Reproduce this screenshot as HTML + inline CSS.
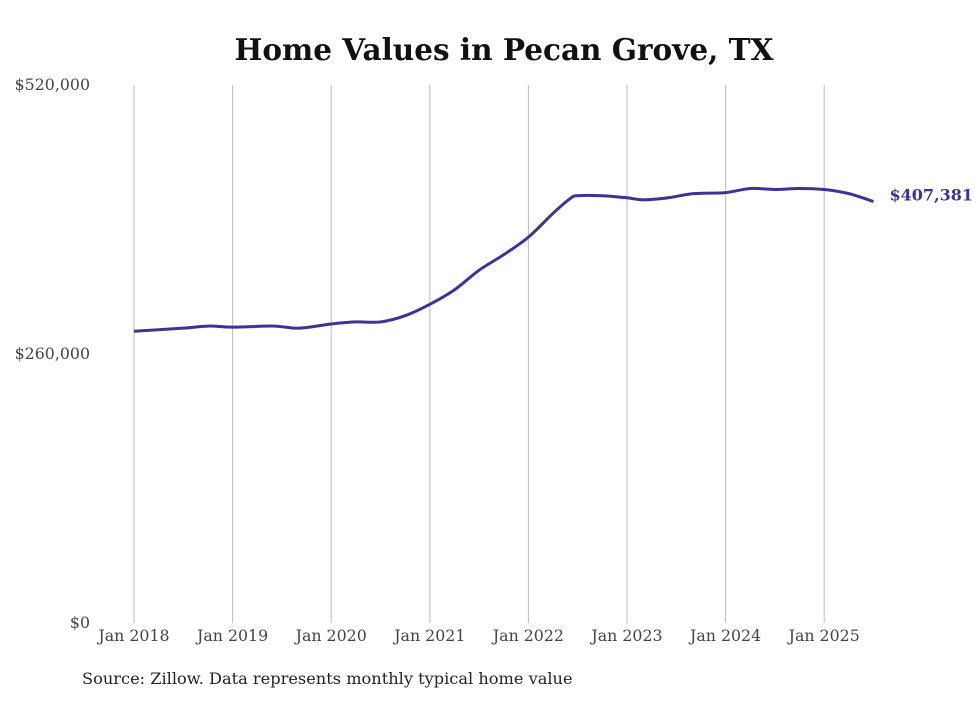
<!DOCTYPE html>
<html><head><meta charset="utf-8"><style>
html,body{margin:0;padding:0;background:#fff;}
body{width:980px;height:699px;overflow:hidden;font-family:"DejaVu Serif","Liberation Serif",serif;}
</style></head><body>
<svg id="chart" width="980" height="699" xmlns="http://www.w3.org/2000/svg">
<text x="504" y="60" text-anchor="middle" font-size="29.5" font-weight="bold" fill="#111">Home Values in Pecan Grove, TX</text>
<g id="grid"></g><g id="yticks"></g><g id="xticks"></g><g id="series"></g>
<text x="82" y="684" font-size="16.2" fill="#222">Source: Zillow. Data represents monthly typical home value</text>
</svg>
<script>
const yTickValues=[0,260000,520000];
const yTickLabels=["$0","$260,000","$520,000"];
const xTickYears=[2018,2019,2020,2021,2022,2023,2024,2025];
const xTickLabels=["Jan 2018","Jan 2019","Jan 2020","Jan 2021","Jan 2022","Jan 2023","Jan 2024","Jan 2025"];
const dates=[2018.0,2018.5,2018.75,2019.0,2019.42,2019.67,2020.0,2020.25,2020.5,2020.75,2021.0,2021.25,2021.5,2021.75,2022.0,2022.25,2022.42,2022.5,2022.75,2023.0,2023.17,2023.42,2023.67,2024.0,2024.25,2024.5,2024.75,2025.0,2025.25,2025.5];
const values=[282000,285000,287000,286000,287000,285000,289000,291000,291000,297000,308000,322000,341000,356000,373000,396000,410000,413000,413000,411000,409000,411000,415000,416000,420000,419000,420000,419000,415000,407381];
const lastLabel="$407,381";
const NS="http://www.w3.org/2000/svg";
const X=y=>134+(y-2018)*98.6;
const Y=v=>623-v/520000*538;
function mk(t,a,p){const e=document.createElementNS(NS,t);for(const k in a)e.setAttribute(k,a[k]);p.appendChild(e);return e;}
const grid=document.getElementById('grid'),yt=document.getElementById('yticks'),xt=document.getElementById('xticks'),se=document.getElementById('series');
xTickYears.forEach((yr,i)=>{
 const l=mk('line',{x1:X(yr),x2:X(yr),y1:85,y2:623,stroke:'#bbb','stroke-width':1},grid);
 
 
 const t=mk('text',{x:X(yr),y:641,'text-anchor':'middle','font-size':15.8,fill:'#444'},xt);
 t.textContent=xTickLabels[i];
 
 
});
yTickValues.forEach((v,i)=>{
 const t=mk('text',{x:90,y:Y(v)+5,'text-anchor':'end','font-size':15.8,fill:'#444'},yt);
 t.textContent=yTickLabels[i];
 
 
});
const pts=dates.map((d,i)=>[X(d),Y(values[i])]);
let d='M'+pts[0][0]+','+pts[0][1];
for(let i=0;i<pts.length-1;i++){
 const p0=pts[i-1]||pts[i],p1=pts[i],p2=pts[i+1],p3=pts[i+2]||p2;
 const c1=[p1[0]+(p2[0]-p0[0])/6,p1[1]+(p2[1]-p0[1])/6],c2=[p2[0]-(p3[0]-p1[0])/6,p2[1]-(p3[1]-p1[1])/6];
 d+=' C'+c1+' '+c2+' '+p2;
}
const path=mk('path',{d:d,fill:'none',stroke:'#3b3397','stroke-width':3,'stroke-linejoin':'round'},se);


const last=pts[pts.length-1];
const lt=mk('text',{x:last[0]+16,y:last[1]-1,'font-size':16,'font-weight':'bold',fill:'#3b3397'},se);
lt.textContent=lastLabel;


</script>
</body></html>
